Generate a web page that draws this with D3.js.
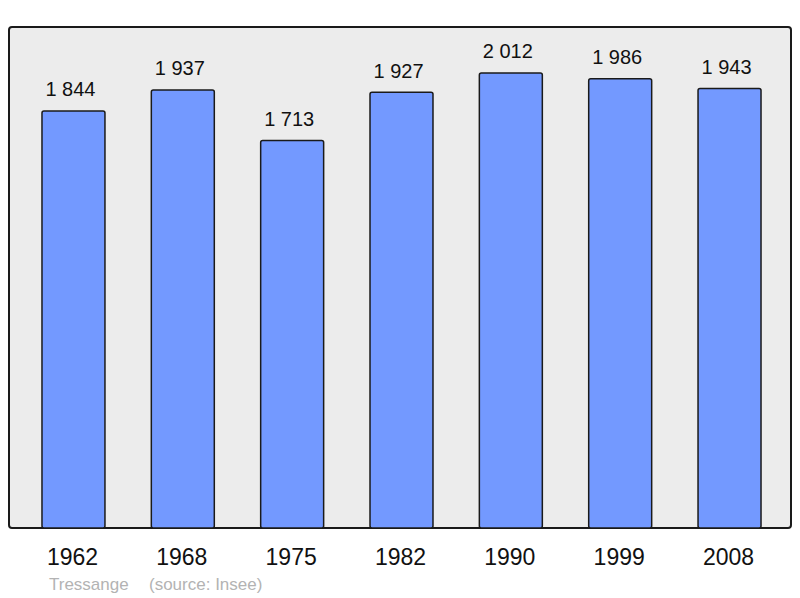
<!DOCTYPE html>
<html><head><meta charset="utf-8">
<script src="https://cdn.jsdelivr.net/npm/d3@7"></script>
<style>body{margin:0;background:#fff}svg{display:block;font-family:"Liberation Sans",Arial,sans-serif}</style>
</head><body><svg id="c" width="800" height="598"></svg>
<script>
const years = ["1962","1968","1975","1982","1990","1999","2008"];
const population = [1844,1937,1713,1927,2012,1986,1943];
const labels = ["1 844","1 937","1 713","1 927","2 012","1 986","1 943"];
const town = "Tressange";
const source = "(source: Insee)";

const svg = d3.select("#c");
const x = d3.scaleBand().domain(years).range([18.8,784.2]).paddingInner(0.424).paddingOuter(0.212);
const y = d3.scaleLinear().domain([0,2215]).range([528,27]);

svg.append("rect").attr("x",9).attr("y",27).attr("width",782).attr("height",501)
  .attr("rx",3).attr("fill","#ececec").attr("stroke","#1a1a1a").attr("stroke-width",2);

svg.selectAll("rect.bar").data(population).join("rect").attr("class","bar")
  .attr("x",(d,i)=>x(years[i])).attr("y",d=>y(d))
  .attr("width",x.bandwidth()).attr("height",d=>y(0)-y(d)).attr("rx",2)
  .attr("fill","#7399ff").attr("stroke","#1a1a1a").attr("stroke-width",1.5);

svg.selectAll("text.val").data(population).join("text").attr("class","val")
  .attr("x",(d,i)=>x(years[i])+x.bandwidth()/2-3).attr("y",d=>y(d)-14.5)
  .attr("text-anchor","middle").attr("font-size",20).attr("fill","#111")
  .text((d,i)=>labels[i]);

svg.selectAll("text.yr").data(years).join("text").attr("class","yr")
  .attr("x",d=>x(d)+x.bandwidth()/2-1).attr("y",565)
  .attr("text-anchor","middle").attr("font-size",23).attr("fill","#111").text(d=>d);

svg.append("text").attr("x",49).attr("y",590).attr("font-size",17).attr("fill","#b3b3b3").text(town);
svg.append("text").attr("x",149).attr("y",590).attr("font-size",17).attr("fill","#b3b3b3").text(source);
</script></body></html>
